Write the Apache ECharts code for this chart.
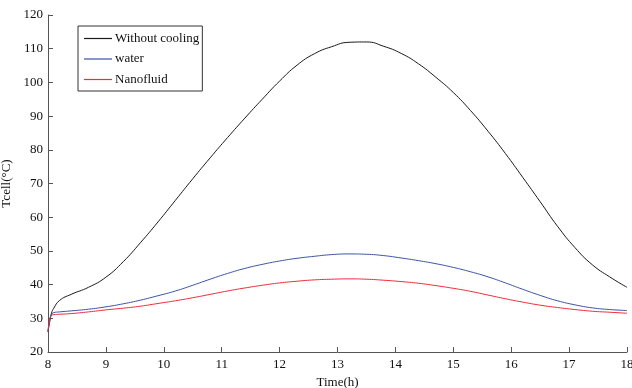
<!DOCTYPE html>
<html>
<head>
<meta charset="utf-8">
<script src="https://cdn.jsdelivr.net/npm/echarts@6/dist/echarts.min.js"></script>
<style>
  html, body { margin: 0; padding: 0; background: #fff; }
  #chart { width: 632px; height: 388px; }
</style>
</head>
<body>
<div id="chart"></div>
<script>
// Time (h) samples
const hours = [8, 8.03, 8.06, 8.1, 8.2, 8.4, 8.7, 9, 9.3, 9.6, 9.9, 10.2, 10.5, 10.8, 11.1, 11.4, 11.7, 12,
  12.3, 12.6, 12.9, 13.2, 13.5, 13.8, 14.1, 14.4, 14.7, 15, 15.3, 15.6, 15.9, 16.2, 16.5, 16.8, 17.1, 17.4, 17.7, 18];

const withoutCooling = [26, 29, 31.5, 33, 35.3, 37.1, 39.2, 42.2, 46.8, 52.5, 58.6, 65.0, 71.4, 77.6, 83.6, 89.4, 95.0, 100.4,
  105.1, 108.5, 110.6, 111.9, 112.0, 110.7, 108.6, 105.5, 101.5, 97.0, 91.6, 85.5, 78.9, 71.8, 64.6, 57.3, 51.0, 45.9, 42.3, 39.2];

const water = [26, 29.5, 31, 31.7, 31.9, 32.2, 32.7, 33.4, 34.3, 35.4, 36.7, 38.1, 39.8, 41.6, 43.3, 44.8, 46.0, 47.0,
  47.8, 48.4, 48.9, 49.1, 49.0, 48.6, 47.9, 47.1, 46.2, 45.1, 43.8, 42.3, 40.5, 38.6, 36.8, 35.2, 34.0, 33.1, 32.6, 32.3];

const nanofluid = [26, 29.8, 30.8, 31.1, 31.2, 31.4, 31.9, 32.5, 33.0, 33.6, 34.4, 35.2, 36.1, 37.1, 38.1, 39.0, 39.8, 40.5,
  41.0, 41.4, 41.6, 41.7, 41.6, 41.3, 40.9, 40.4, 39.7, 38.9, 38.0, 36.9, 35.8, 34.8, 33.9, 33.2, 32.6, 32.1, 31.8, 31.5];

const seriesNames = ["Without cooling", "water", "Nanofluid"];
const seriesColors = ["#1a1a1a", "#3b53a4", "#ee2b36"];

const font = "'Liberation Serif', 'DejaVu Serif', serif";
const pairs = (ys) => hours.map((h, i) => [h, ys[i]]);

const chart = echarts.init(document.getElementById("chart"));

chart.setOption({
  backgroundColor: "#fff",
  animation: false,
  grid: { left: 48, right: 5, top: 15, bottom: 36, containLabel: false, outerBoundsMode: "none" },
  legend: {
    orient: "vertical",
    left: 78,
    top: 26,
    padding: [6, 3, 5, 6],
    icon: "path://M0,0H28V1.2H0Z",
    itemWidth: 28,
    itemHeight: 1.2,
    itemGap: 7.5,
    borderColor: "#333",
    borderWidth: 1,
    backgroundColor: "#fff",
    textStyle: { fontFamily: font, fontSize: 13, lineHeight: 12, color: "#111", padding: [0, 0, 0, -2] },
    data: seriesNames.map((n, i) => ({ name: n, itemStyle: { color: seriesColors[i] } })),
  },
  xAxis: {
    type: "value",
    min: 8,
    max: 18,
    interval: 1,
    name: "Time(h)",
    nameLocation: "middle",
    nameGap: 23,
    nameTextStyle: { fontFamily: font, fontSize: 13, color: "#111" },
    axisLine: { show: true, lineStyle: { color: "#555" } },
    axisTick: { show: true, inside: true, length: 5, lineStyle: { color: "#555" } },
    axisLabel: { fontFamily: font, fontSize: 13, color: "#111", margin: 6 },
    splitLine: { show: false },
  },
  yAxis: {
    type: "value",
    min: 20,
    max: 120,
    interval: 10,
    name: "Tcell(°C)",
    nameLocation: "middle",
    nameGap: 29,
    nameTextStyle: { fontFamily: font, fontSize: 13, color: "#111" },
    axisLine: { show: true, lineStyle: { color: "#555" } },
    axisTick: { show: true, inside: true, length: 5, lineStyle: { color: "#555" } },
    axisLabel: { fontFamily: font, fontSize: 13, color: "#111", margin: 5 },
    splitLine: { show: false },
  },
  series: [withoutCooling, water, nanofluid].map((ys, i) => ({
    name: seriesNames[i],
    type: "line",
    smooth: 0.5,
    smoothConstraint: false,
    symbol: "none",
    color: seriesColors[i],
    lineStyle: { width: 1, color: seriesColors[i] },
    data: pairs(ys),
  })),
});
</script>
</body>
</html>
